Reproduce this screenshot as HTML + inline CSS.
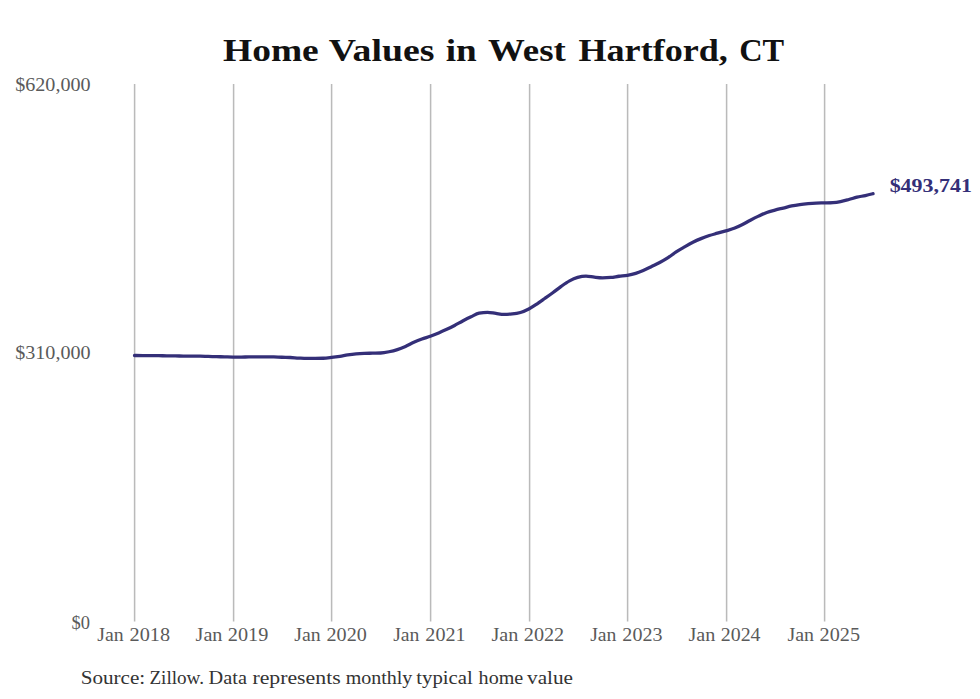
<!DOCTYPE html>
<html><head><meta charset="utf-8"><style>
html,body{margin:0;padding:0;background:#fff;width:980px;height:699px;overflow:hidden}
svg{display:block}
text{font-family:"Liberation Serif",serif;white-space:pre}
.tk{fill:#5a5a5a}
.title{font-weight:bold;fill:#111}
.src{fill:#333}
.end{font-weight:bold;fill:#342f78}
</style></head><body>
<svg width="980" height="699" viewBox="0 0 980 699">
<rect width="980" height="699" fill="#fff"/>
<rect x="133" y="84" width="1" height="537.5" fill="#f4f4f4"/><rect x="135" y="84" width="1" height="537.5" fill="#e6e6e6"/><rect x="134" y="84" width="1" height="537.5" fill="#bababa"/>
<rect x="232" y="84" width="1" height="537.5" fill="#f4f4f4"/><rect x="234" y="84" width="1" height="537.5" fill="#e6e6e6"/><rect x="233" y="84" width="1" height="537.5" fill="#bababa"/>
<rect x="330" y="84" width="1" height="537.5" fill="#f4f4f4"/><rect x="332" y="84" width="1" height="537.5" fill="#e6e6e6"/><rect x="331" y="84" width="1" height="537.5" fill="#bababa"/>
<rect x="429" y="84" width="1" height="537.5" fill="#f4f4f4"/><rect x="431" y="84" width="1" height="537.5" fill="#e6e6e6"/><rect x="430" y="84" width="1" height="537.5" fill="#bababa"/>
<rect x="528" y="84" width="1" height="537.5" fill="#f4f4f4"/><rect x="530" y="84" width="1" height="537.5" fill="#e6e6e6"/><rect x="529" y="84" width="1" height="537.5" fill="#bababa"/>
<rect x="626" y="84" width="1" height="537.5" fill="#f4f4f4"/><rect x="628" y="84" width="1" height="537.5" fill="#e6e6e6"/><rect x="627" y="84" width="1" height="537.5" fill="#bababa"/>
<rect x="725" y="84" width="1" height="537.5" fill="#f4f4f4"/><rect x="727" y="84" width="1" height="537.5" fill="#e6e6e6"/><rect x="726" y="84" width="1" height="537.5" fill="#bababa"/>
<rect x="823" y="84" width="1" height="537.5" fill="#f4f4f4"/><rect x="825" y="84" width="1" height="537.5" fill="#e6e6e6"/><rect x="824" y="84" width="1" height="537.5" fill="#bababa"/>
<path d="M134.50,355.50C137.29,355.52 140.08,355.54 142.87,355.55C145.39,355.57 147.90,355.58 150.42,355.60C153.21,355.63 156.00,355.66 158.79,355.69C161.49,355.72 164.19,355.76 166.89,355.79C169.68,355.83 172.46,355.86 175.25,355.91C177.95,355.95 180.65,356.03 183.35,356.07C186.14,356.11 188.93,356.12 191.72,356.14C194.51,356.17 197.29,356.16 200.08,356.20C202.78,356.24 205.48,356.35 208.18,356.42C210.97,356.49 213.76,356.57 216.55,356.64C219.25,356.72 221.94,356.79 224.64,356.87C227.43,356.95 230.22,357.10 233.01,357.10C235.80,357.10 238.59,357.06 241.38,357.03C243.90,357.00 246.41,356.96 248.93,356.92C251.72,356.88 254.51,356.80 257.30,356.80C260.00,356.80 262.70,356.80 265.40,356.80C268.19,356.80 270.97,356.87 273.76,356.95C276.46,357.03 279.16,357.18 281.86,357.27C284.65,357.37 287.44,357.38 290.23,357.50C293.02,357.63 295.80,357.88 298.59,358.03C301.29,358.18 303.99,358.40 306.69,358.40C309.48,358.40 312.27,358.40 315.06,358.40C317.76,358.40 320.45,358.34 323.15,358.24C325.94,358.13 328.73,357.75 331.52,357.43C334.31,357.11 337.10,356.74 339.89,356.32C342.50,355.92 345.10,355.38 347.71,354.99C350.50,354.57 353.29,354.20 356.08,353.93C358.78,353.67 361.48,353.50 364.18,353.37C366.97,353.24 369.75,353.24 372.54,353.17C375.24,353.11 377.94,353.12 380.64,353.00C383.43,352.89 386.22,352.32 389.01,351.75C391.80,351.18 394.58,350.49 397.37,349.59C400.07,348.72 402.77,347.65 405.47,346.47C408.26,345.25 411.05,343.62 413.84,342.36C416.54,341.14 419.23,340.03 421.93,339.03C424.72,337.99 427.51,337.27 430.30,336.26C433.09,335.24 435.88,334.11 438.67,332.93C441.19,331.87 443.70,330.78 446.22,329.60C449.01,328.29 451.80,326.89 454.59,325.42C457.29,324.00 459.99,322.38 462.69,320.95C465.48,319.48 468.26,318.05 471.05,316.74C473.75,315.46 476.45,313.71 479.15,313.17C481.94,312.63 484.73,312.35 487.52,312.35C490.30,312.35 493.09,313.08 495.88,313.41C498.58,313.72 501.28,314.30 503.98,314.30C506.77,314.30 509.56,314.17 512.35,313.92C515.04,313.68 517.74,313.27 520.44,312.47C523.23,311.64 526.02,310.41 528.81,308.97C531.60,307.52 534.39,305.65 537.18,303.81C539.69,302.14 542.21,300.29 544.73,298.50C547.52,296.52 550.31,294.55 553.10,292.49C555.80,290.50 558.50,288.27 561.20,286.36C563.98,284.39 566.77,282.38 569.56,280.87C572.26,279.41 574.96,278.20 577.66,277.40C580.45,276.58 583.24,276.10 586.03,276.10C588.81,276.10 591.60,276.91 594.39,277.20C597.09,277.49 599.79,277.85 602.49,277.85C605.28,277.85 608.07,277.72 610.86,277.46C613.55,277.21 616.25,276.60 618.95,276.25C621.74,275.88 624.53,275.80 627.32,275.32C630.11,274.84 632.90,274.25 635.69,273.37C638.20,272.57 640.72,271.49 643.24,270.41C646.03,269.22 648.82,267.82 651.61,266.49C654.31,265.20 657.01,263.99 659.71,262.55C662.49,261.07 665.28,259.52 668.07,257.70C670.77,255.94 673.47,253.65 676.17,251.87C678.96,250.03 681.75,248.49 684.54,246.90C687.32,245.30 690.11,243.68 692.90,242.29C695.60,240.94 698.30,239.75 701.00,238.64C703.79,237.49 706.58,236.46 709.37,235.54C712.06,234.65 714.76,233.99 717.46,233.21C720.25,232.41 723.04,231.61 725.83,230.80C728.62,229.98 731.41,229.38 734.20,228.33C736.80,227.34 739.41,226.07 742.02,224.77C744.81,223.38 747.60,221.66 750.39,220.20C753.09,218.78 755.79,217.40 758.49,216.13C761.27,214.81 764.06,213.44 766.85,212.43C769.55,211.45 772.25,210.83 774.95,210.11C777.74,209.37 780.53,208.73 783.32,208.04C786.10,207.35 788.89,206.55 791.68,205.96C794.38,205.40 797.08,204.97 799.78,204.58C802.57,204.18 805.36,203.88 808.15,203.62C810.84,203.38 813.54,203.19 816.24,203.08C819.03,202.96 821.82,202.97 824.61,202.90C827.40,202.82 830.19,202.81 832.98,202.62C835.49,202.45 838.01,202.06 840.53,201.58C843.32,201.05 846.11,200.25 848.90,199.51C851.60,198.79 854.30,197.86 857.00,197.20C859.78,196.52 862.57,196.14 865.36,195.52C867.91,194.96 870.45,194.33 873.00,193.70" fill="none" stroke="#342f78" stroke-width="3.3" stroke-linecap="round" stroke-linejoin="round"/>
<text id="t0" class="title" x="223.02" y="61.1" style="font-size:31px" textLength="95.74" lengthAdjust="spacingAndGlyphs">Home</text>
<text id="t1" class="title" x="328.84" y="61.1" style="font-size:31px" textLength="105.57" lengthAdjust="spacingAndGlyphs">Values</text>
<text id="t2" class="title" x="445.76" y="61.1" style="font-size:31px" textLength="31.04" lengthAdjust="spacingAndGlyphs">in</text>
<text id="t3" class="title" x="488.08" y="61.1" style="font-size:31px" textLength="77.74" lengthAdjust="spacingAndGlyphs">West</text>
<text id="t4" class="title" x="578.48" y="61.1" style="font-size:31px" textLength="149.45" lengthAdjust="spacingAndGlyphs">Hartford,</text>
<text id="t5" class="title" x="739.23" y="61.1" style="font-size:31px" textLength="45.00" lengthAdjust="spacingAndGlyphs">CT</text>
<text id="y0" class="tk" x="15.20" y="91.0" style="font-size:18.6px" textLength="75.40" lengthAdjust="spacingAndGlyphs">$620,000</text>
<text id="y1" class="tk" x="15.20" y="358.8" style="font-size:18.6px" textLength="75.40" lengthAdjust="spacingAndGlyphs">$310,000</text>
<text id="y2" class="tk" x="71.42" y="629.0" style="font-size:18.6px" textLength="18.50" lengthAdjust="spacingAndGlyphs">$0</text>
<text id="xj2018" class="tk" x="97.37" y="641" style="font-size:18px" textLength="26.40" lengthAdjust="spacingAndGlyphs">Jan</text>
<text id="xy2018" class="tk" x="129.55" y="641" style="font-size:18px" textLength="40.52" lengthAdjust="spacingAndGlyphs">2018</text>
<text id="xj2019" class="tk" x="195.56" y="641" style="font-size:18px" textLength="26.87" lengthAdjust="spacingAndGlyphs">Jan</text>
<text id="xy2019" class="tk" x="227.86" y="641" style="font-size:18px" textLength="40.51" lengthAdjust="spacingAndGlyphs">2019</text>
<text id="xj2020" class="tk" x="294.37" y="641" style="font-size:18px" textLength="26.40" lengthAdjust="spacingAndGlyphs">Jan</text>
<text id="xy2020" class="tk" x="326.55" y="641" style="font-size:18px" textLength="40.27" lengthAdjust="spacingAndGlyphs">2020</text>
<text id="xj2021" class="tk" x="393.16" y="641" style="font-size:18px" textLength="26.34" lengthAdjust="spacingAndGlyphs">Jan</text>
<text id="xy2021" class="tk" x="425.37" y="641" style="font-size:18px" textLength="40.17" lengthAdjust="spacingAndGlyphs">2021</text>
<text id="xj2022" class="tk" x="491.45" y="641" style="font-size:18px" textLength="26.92" lengthAdjust="spacingAndGlyphs">Jan</text>
<text id="xy2022" class="tk" x="523.80" y="641" style="font-size:18px" textLength="40.41" lengthAdjust="spacingAndGlyphs">2022</text>
<text id="xj2023" class="tk" x="590.16" y="641" style="font-size:18px" textLength="26.34" lengthAdjust="spacingAndGlyphs">Jan</text>
<text id="xy2023" class="tk" x="622.39" y="641" style="font-size:18px" textLength="40.07" lengthAdjust="spacingAndGlyphs">2023</text>
<text id="xj2024" class="tk" x="688.45" y="641" style="font-size:18px" textLength="26.92" lengthAdjust="spacingAndGlyphs">Jan</text>
<text id="xy2024" class="tk" x="720.86" y="641" style="font-size:18px" textLength="39.68" lengthAdjust="spacingAndGlyphs">2024</text>
<text id="xj2025" class="tk" x="787.50" y="641" style="font-size:18px" textLength="26.57" lengthAdjust="spacingAndGlyphs">Jan</text>
<text id="xy2025" class="tk" x="819.63" y="641" style="font-size:18px" textLength="40.34" lengthAdjust="spacingAndGlyphs">2025</text>
<text id="s0" class="src" x="80.68" y="683.5" style="font-size:18.6px" textLength="64.57" lengthAdjust="spacingAndGlyphs">Source:</text>
<text id="s1" class="src" x="149.43" y="683.5" style="font-size:18.6px" textLength="54.51" lengthAdjust="spacingAndGlyphs">Zillow.</text>
<text id="s2" class="src" x="208.63" y="683.5" style="font-size:18.6px" textLength="38.34" lengthAdjust="spacingAndGlyphs">Data</text>
<text id="s3" class="src" x="252.41" y="683.5" style="font-size:18.6px" textLength="88.27" lengthAdjust="spacingAndGlyphs">represents</text>
<text id="s4" class="src" x="345.65" y="683.5" style="font-size:18.6px" textLength="66.74" lengthAdjust="spacingAndGlyphs">monthly</text>
<text id="s5" class="src" x="416.23" y="683.5" style="font-size:18.6px" textLength="56.60" lengthAdjust="spacingAndGlyphs">typical</text>
<text id="s6" class="src" x="478.64" y="683.5" style="font-size:18.6px" textLength="44.63" lengthAdjust="spacingAndGlyphs">home</text>
<text id="s7" class="src" x="527.07" y="683.5" style="font-size:18.6px" textLength="45.94" lengthAdjust="spacingAndGlyphs">value</text>
<text id="end" class="end" x="889.65" y="191.6" style="font-size:18px" textLength="82.39" lengthAdjust="spacingAndGlyphs">$493,741</text>
</svg>
</body></html>
